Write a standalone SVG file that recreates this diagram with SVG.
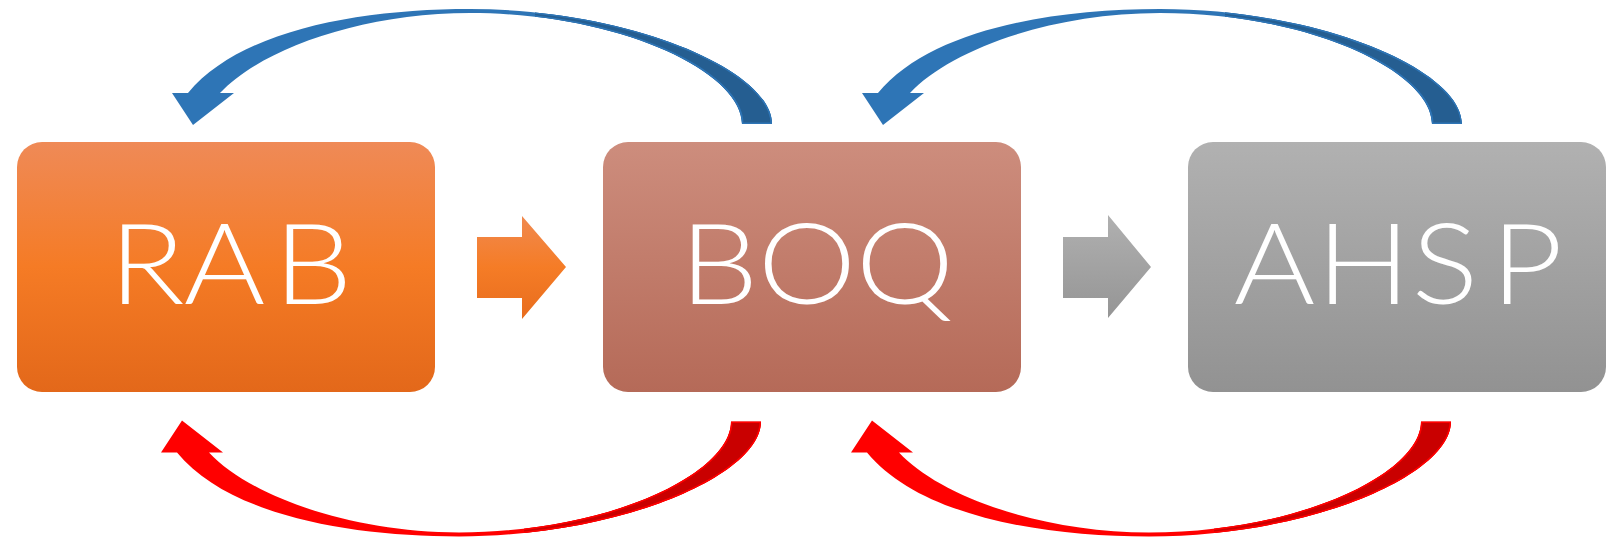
<svg xmlns="http://www.w3.org/2000/svg" width="1609" height="538" viewBox="0 0 1609 538">
<style>
.lbl{font-family:"Lato","Liberation Sans",sans-serif;font-size:113px;font-weight:300;fill:#ffffff;text-anchor:middle}
.bl{fill:#2e75b6}
.bd{fill:#255e91;stroke:#2e75b6;stroke-width:3}
.rl{fill:#ff0000}
.rd{fill:#c90000;stroke:#ff0000;stroke-width:3}
</style>
<defs>
<linearGradient id="gO" x1="0" y1="0" x2="0" y2="1"><stop offset="0" stop-color="#ef8a57"/><stop offset="0.5" stop-color="#f57b25"/><stop offset="1" stop-color="#e3681a"/></linearGradient>
<linearGradient id="gB" x1="0" y1="0" x2="0" y2="1"><stop offset="0" stop-color="#cd8d7d"/><stop offset="1" stop-color="#b56a58"/></linearGradient>
<linearGradient id="gG" x1="0" y1="0" x2="0" y2="1"><stop offset="0" stop-color="#b1b1b1"/><stop offset="1" stop-color="#929292"/></linearGradient>
<linearGradient id="gOA" x1="0" y1="0" x2="0" y2="1"><stop offset="0" stop-color="#f0894f"/><stop offset="0.5" stop-color="#f57c26"/><stop offset="1" stop-color="#e86d1e"/></linearGradient>
<linearGradient id="gGA" x1="0" y1="0" x2="0" y2="1"><stop offset="0" stop-color="#b0b0b0"/><stop offset="1" stop-color="#959595"/></linearGradient>
<clipPath id="cR"><rect x="535" y="0" width="400" height="200"/></clipPath>
<clipPath id="cBand"><path d="M470,9 C630,9 772,70 772,124 L742,124 C742,72 620,13 470,13 Z"/></clipPath>
<path id="arcFull" d="M188,93 C240,30 360,9 470,9 C630,9 772,70 772,124 L742,124 C742,72 620,13 470,13 C360,13 260,50 220,93 L234,93 L193,125 L172,93 Z"/>
<path id="arcBand" d="M470,9 C630,9 772,70 772,124 L742,124 C742,72 620,13 470,13 Z"/>
</defs>

<g id="connectors">
  <g id="blue-left">
    <use href="#arcFull" class="bl"/>
    <g clip-path="url(#cBand)"><use href="#arcBand" class="bd" clip-path="url(#cR)"/></g>
  </g>
  <g id="blue-right" transform="translate(690,0)">
    <use href="#arcFull" class="bl"/>
    <g clip-path="url(#cBand)"><use href="#arcBand" class="bd" clip-path="url(#cR)"/></g>
  </g>
  <g id="red-left" transform="translate(-11,545.4) scale(1,-1)">
    <use href="#arcFull" class="rl"/>
    <g clip-path="url(#cBand)"><use href="#arcBand" class="rd" clip-path="url(#cR)"/></g>
  </g>
  <g id="red-right" transform="translate(679,545.4) scale(1,-1)">
    <use href="#arcFull" class="rl"/>
    <g clip-path="url(#cBand)"><use href="#arcBand" class="rd" clip-path="url(#cR)"/></g>
  </g>
  <polygon id="arrow-rab-boq" points="477,237 522,237 522,216 566,267 522,319 522,298 477,298" fill="url(#gOA)"/>
  <polygon id="arrow-boq-ahsp" points="1063,237 1108,237 1108,215 1151,267 1108,318 1108,298 1063,298" fill="url(#gGA)"/>
</g>

<g id="node-rab">
  <rect x="17" y="142" width="418" height="250" rx="25" fill="url(#gO)"/>
  <text class="lbl" transform="matrix(1.1 0 0 1 -22.6 0)" x="154.2 224.6 305.1" y="304">RAB</text>
</g>
<g id="node-boq">
  <rect x="603" y="142" width="418" height="250" rx="25" fill="url(#gB)"/>
  <text class="lbl" transform="matrix(1.1 0 0 1 -81.2 0)" x="727.5 807.5 896.5" y="304">BOQ</text>
</g>
<g id="node-ahsp">
  <rect x="1188" y="142" width="418" height="250" rx="25" fill="url(#gG)"/>
  <text class="lbl" transform="matrix(1.1 0 0 1 -139.7 0)" x="1285.6 1366.5 1440.6 1515.2" y="304">AHSP</text>
</g>
</svg>
